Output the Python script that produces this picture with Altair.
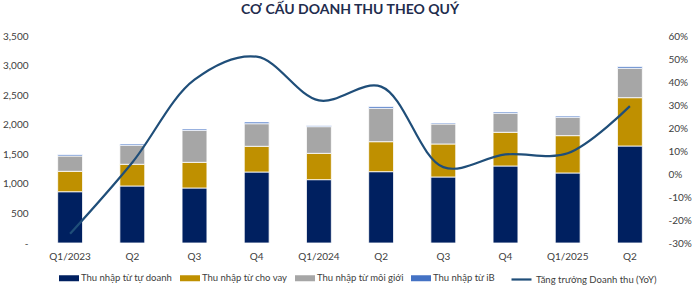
import altair as alt
import pandas as pd

quarters = ["Q1/2023", "Q2", "Q3", "Q4", "Q1/2024", "Q2 ", "Q3 ", "Q4 ", "Q1/2025", "Q2  "]
tu_doanh = [867, 964, 930, 1200, 1071, 1206, 1116, 1302, 1184, 1640]
cho_vay = [345, 367, 434, 435, 445, 507, 558, 570, 631, 817]
moi_gioi = [259, 321, 541, 382, 451, 564, 338, 321, 311, 497]
ib = [22, 22, 23, 29, 17, 28, 17, 22, 21, 27]
tang_truong = [-26, 5, 41, 51, 32, 38, 3, 8.5, 9, 29.5]

series_names = ["Thu nhập từ tự doanh", "Thu nhập từ cho vay", "Thu nhập từ môi giới", "Thu nhập từ iB"]
series_colors = ["#002060", "#BF9000", "#A6A6A6", "#4472C4"]
line_name = "Tăng trưởng Doanh thu (YoY)"

rows = []
for i, q in enumerate(quarters):
    for k, (name, vals) in enumerate(zip(series_names, [tu_doanh, cho_vay, moi_gioi, ib])):
        rows.append({"q": q, "series": name, "value": vals[i], "ord": k})
bars_df = pd.DataFrame(rows)
line_df = pd.DataFrame({"q": quarters, "g": tang_truong, "s": [line_name] * len(quarters)})

FONT = "Lato"
xenc = alt.X("q:N", sort=quarters, title=None,
             scale=alt.Scale(paddingInner=0.6, paddingOuter=0.3),
             axis=alt.Axis(labelAngle=0, domain=False, ticks=False, labelPadding=8,
                           labelFontSize=10, labelColor="#404040", labelFont=FONT,
                           labelExpr="trim(datum.label)"))

bars = alt.Chart(bars_df).mark_bar(stroke="white", strokeWidth=0.8).encode(
    x=xenc,
    y=alt.Y("value:Q", stack="zero", title=None,
            scale=alt.Scale(domain=[0, 3500], nice=False),
            axis=alt.Axis(values=[0, 500, 1000, 1500, 2000, 2500, 3000, 3500], grid=False,
                          domain=False, ticks=False, labelPadding=11, labelFontSize=10,
                          labelColor="#404040", labelFont=FONT,
                          labelExpr="datum.value == 0 ? '-' : format(datum.value, ',')")),
    color=alt.Color("series:N", sort=series_names,
                    scale=alt.Scale(domain=series_names, range=series_colors),
                    legend=alt.Legend(title=None, orient="none", legendX=20, legendY=232,
                                      direction="horizontal", columns=4, columnPadding=7,
                                      symbolType="M-1,-0.3H1V0.3H-1Z", symbolSize=400,
                                      symbolStrokeWidth=0, labelFontSize=9.5, labelFont=FONT,
                                      labelColor="#404040", labelOffset=2, labelLimit=200)),
    order=alt.Order("ord:Q"),
)

line = alt.Chart(line_df).mark_line(interpolate="catmull-rom", strokeWidth=2.2).encode(
    x=xenc,
    y=alt.Y("g:Q", title=None, scale=alt.Scale(domain=[-30, 60], nice=False),
            axis=alt.Axis(orient="right", values=[-30, -20, -10, 0, 10, 20, 30, 40, 50, 60],
                          grid=False, domain=False, ticks=False, labelPadding=7,
                          labelFontSize=10, labelColor="#404040", labelFont=FONT,
                          labelExpr="datum.value + '%'")),
    stroke=alt.Stroke("s:N", scale=alt.Scale(range=["#1F4E79"]),
                      legend=alt.Legend(title=None, orient="none", legendX=471, legendY=232,
                                        symbolType="stroke", symbolSize=400,
                                        symbolStrokeWidth=2.2, labelFontSize=9.5, labelFont=FONT,
                                        labelColor="#404040", labelOffset=3, labelLimit=200)),
)

chart = alt.layer(bars, line).resolve_scale(y="independent").properties(
    width=622, height=207,
    background="white",
    autosize=alt.AutoSizeParams(type="none"),
    padding={"left": 39, "top": 36, "right": 33, "bottom": 46},
    title=alt.TitleParams("CƠ CẤU DOANH THU THEO QUÝ", fontSize=14, font=FONT,
                          fontWeight="bold", color="#1F2D4E", anchor="middle", offset=14),
).configure_view(stroke="transparent", strokeWidth=0).configure_axis(
    domain=False, ticks=False, grid=False
)

chart.save("out.html", embed_options={"renderer": "svg", "actions": False})
